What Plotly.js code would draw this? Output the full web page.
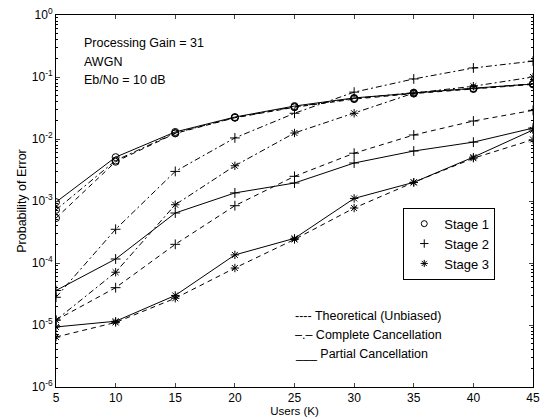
<!DOCTYPE html>
<html>
<head>
<meta charset="utf-8">
<script src="https://cdn.plot.ly/plotly-3.0.1.min.js"></script>
<style>html,body{margin:0;padding:0;background:#fff;}#chart{width:546px;height:419px;}</style>
</head>
<body>
<div id="chart"></div>
<script>
// Users (K)
const users = [5, 10, 15, 20, 25, 30, 35, 40, 45];

// Stage 1 (circles)
const s1Partial  = [9.6e-4, 5.1e-3, 0.0130, 0.0226, 0.034, 0.046, 0.055, 0.066, 0.077];
const s1Complete = [7.2e-4, 4.5e-3, 0.0125, 0.0222, 0.033, 0.045, 0.056, 0.065, 0.078];
const s1Theory   = [5.3e-4, 4.3e-3, 0.0123, 0.0220, 0.0325, 0.044, 0.054, 0.064, 0.076];

// Stage 2 (plus)
const s2Complete = [2.8e-5, 3.5e-4, 3.0e-3, 0.0104, 0.026, 0.057, 0.093, 0.14, 0.18];
const s2Partial  = [3.6e-5, 1.16e-4, 6.4e-4, 1.35e-3, 1.95e-3, 4.1e-3, 6.4e-3, 8.9e-3, 0.015];
const s2Theory   = [1.2e-5, 4.0e-5, 2.0e-4, 8.4e-4, 2.5e-3, 5.9e-3, 0.0116, 0.0195, 0.029];

// Stage 3 (asterisk)
const s3Complete = [1.2e-5, 7.1e-5, 8.7e-4, 3.7e-3, 0.0125, 0.026, 0.055, 0.071, 0.10];
const s3Partial  = [9.3e-6, 1.15e-5, 3.0e-5, 1.35e-4, 2.5e-4, 1.1e-3, 2.0e-3, 5.1e-3, 0.014];
const s3Theory   = [6.4e-6, 1.1e-5, 2.7e-5, 8.3e-5, 2.4e-4, 7.7e-4, 2.0e-3, 4.9e-3, 0.0098];

const yTickVals = [1e-6, 1e-5, 1e-4, 1e-3, 1e-2, 1e-1, 1];
const yTickText = ['10<sup>-6</sup>','10<sup>-5</sup>','10<sup>-4</sup>','10<sup>-3</sup>','10<sup>-2</sup>','10<sup>-1</sup>','10<sup>0</sup>'];
const xTickVals = [5, 10, 15, 20, 25, 30, 35, 40, 45];
const minorMultipliers = [2, 3, 4, 5, 6, 7, 8, 9];

const yMinorVals = [];
yTickVals.slice(0, -1).forEach(d => minorMultipliers.forEach(m => yMinorVals.push(d * m)));

const stageNames = ['Stage 1', 'Stage 2', 'Stage 3'];
const stageSymbols = ['circle-open', 'cross-thin-open', 'asterisk-open'];
const stageSizes = [7, 7, 7];

const dashStyles = {theory: '5px,4px', complete: '6px,3px,2px,3px', partial: 'solid'};

const series = [
  {y: s1Theory, st: 0, dash: dashStyles.theory},
  {y: s1Complete, st: 0, dash: dashStyles.complete},
  {y: s1Partial, st: 0, dash: dashStyles.partial},
  {y: s2Theory, st: 1, dash: dashStyles.theory},
  {y: s2Complete, st: 1, dash: dashStyles.complete},
  {y: s2Partial, st: 1, dash: dashStyles.partial},
  {y: s3Theory, st: 2, dash: dashStyles.theory},
  {y: s3Complete, st: 2, dash: dashStyles.complete},
  {y: s3Partial, st: 2, dash: dashStyles.partial}
];

const traces = series.map(s => ({
  x: users, y: s.y, type: 'scatter', mode: 'lines+markers',
  line: {color: '#000', width: 1, dash: s.dash},
  marker: {symbol: stageSymbols[s.st], size: stageSizes[s.st], color: '#000', line: {color: '#000', width: 1}},
  showlegend: false, hoverinfo: 'skip'
}));

stageNames.forEach((n, i) => traces.push({
  x: [null], y: [null], type: 'scatter', mode: 'markers', name: n,
  marker: {symbol: stageSymbols[i], size: 6, color: '#000', line: {color: '#000', width: 1}},
  showlegend: true
}));

const font = {family: 'Liberation Sans, Arial, sans-serif', color: '#000'};
const f = s => Object.assign({size: s}, font);

const layout = {
  width: 546, height: 419,
  margin: {l: 56, r: 13, t: 15, b: 32},
  paper_bgcolor: '#fff', plot_bgcolor: '#fff',
  font: f(12),
  showlegend: true,
  legend: {x: 0.728, y: 0.482, xanchor: 'left', yanchor: 'top',
    bordercolor: '#000', borderwidth: 1, bgcolor: '#fff',
    font: f(13), itemwidth: 30, tracegroupgap: 0},
  xaxis: {range: [5, 45], tickvals: xTickVals, ticks: 'inside', ticklen: 4,
    showline: true, mirror: 'ticks', linecolor: '#000', linewidth: 1, showgrid: false, zeroline: false,
    tickfont: f(12),
    title: {text: 'Users (K)', font: f(11.5), standoff: 2}},
  yaxis: {type: 'log', range: [-6, 0], tickvals: yTickVals, ticktext: yTickText,
    ticks: 'inside', ticklen: 4,
    minor: {tickvals: yMinorVals, ticks: 'inside', ticklen: 2, showgrid: false, tickcolor: '#000'},
    showline: true, mirror: 'ticks', linecolor: '#000', linewidth: 1, showgrid: false, zeroline: false,
    tickfont: f(12),
    title: {text: 'Probability of Error', font: f(12.5), standoff: 2}},
  annotations: [
    {xref: 'paper', yref: 'paper', x: 0.055, y: 0.925, xanchor: 'left', yanchor: 'middle', showarrow: false, text: 'Processing Gain = 31', font: f(12.5)},
    {xref: 'paper', yref: 'paper', x: 0.055, y: 0.874, xanchor: 'left', yanchor: 'middle', showarrow: false, text: 'AWGN', font: f(12.5)},
    {xref: 'paper', yref: 'paper', x: 0.055, y: 0.825, xanchor: 'left', yanchor: 'middle', showarrow: false, text: 'Eb/No = 10 dB', font: f(12.5)},
    {xref: 'paper', yref: 'paper', x: 0.497, y: 0.191, xanchor: 'left', yanchor: 'middle', showarrow: false, text: '---- Theoretical (Unbiased)', font: f(12.5)},
    {xref: 'paper', yref: 'paper', x: 0.497, y: 0.140, xanchor: 'left', yanchor: 'middle', showarrow: false, text: '–.– Complete Cancellation', font: f(12.5)},
    {xref: 'paper', yref: 'paper', x: 0.497, y: 0.089, xanchor: 'left', yanchor: 'middle', showarrow: false, text: '___ Partial Cancellation', font: f(12.5)}
  ]
};

Plotly.newPlot('chart', traces, layout, {staticPlot: true, displayModeBar: false});
</script>
</body>
</html>
